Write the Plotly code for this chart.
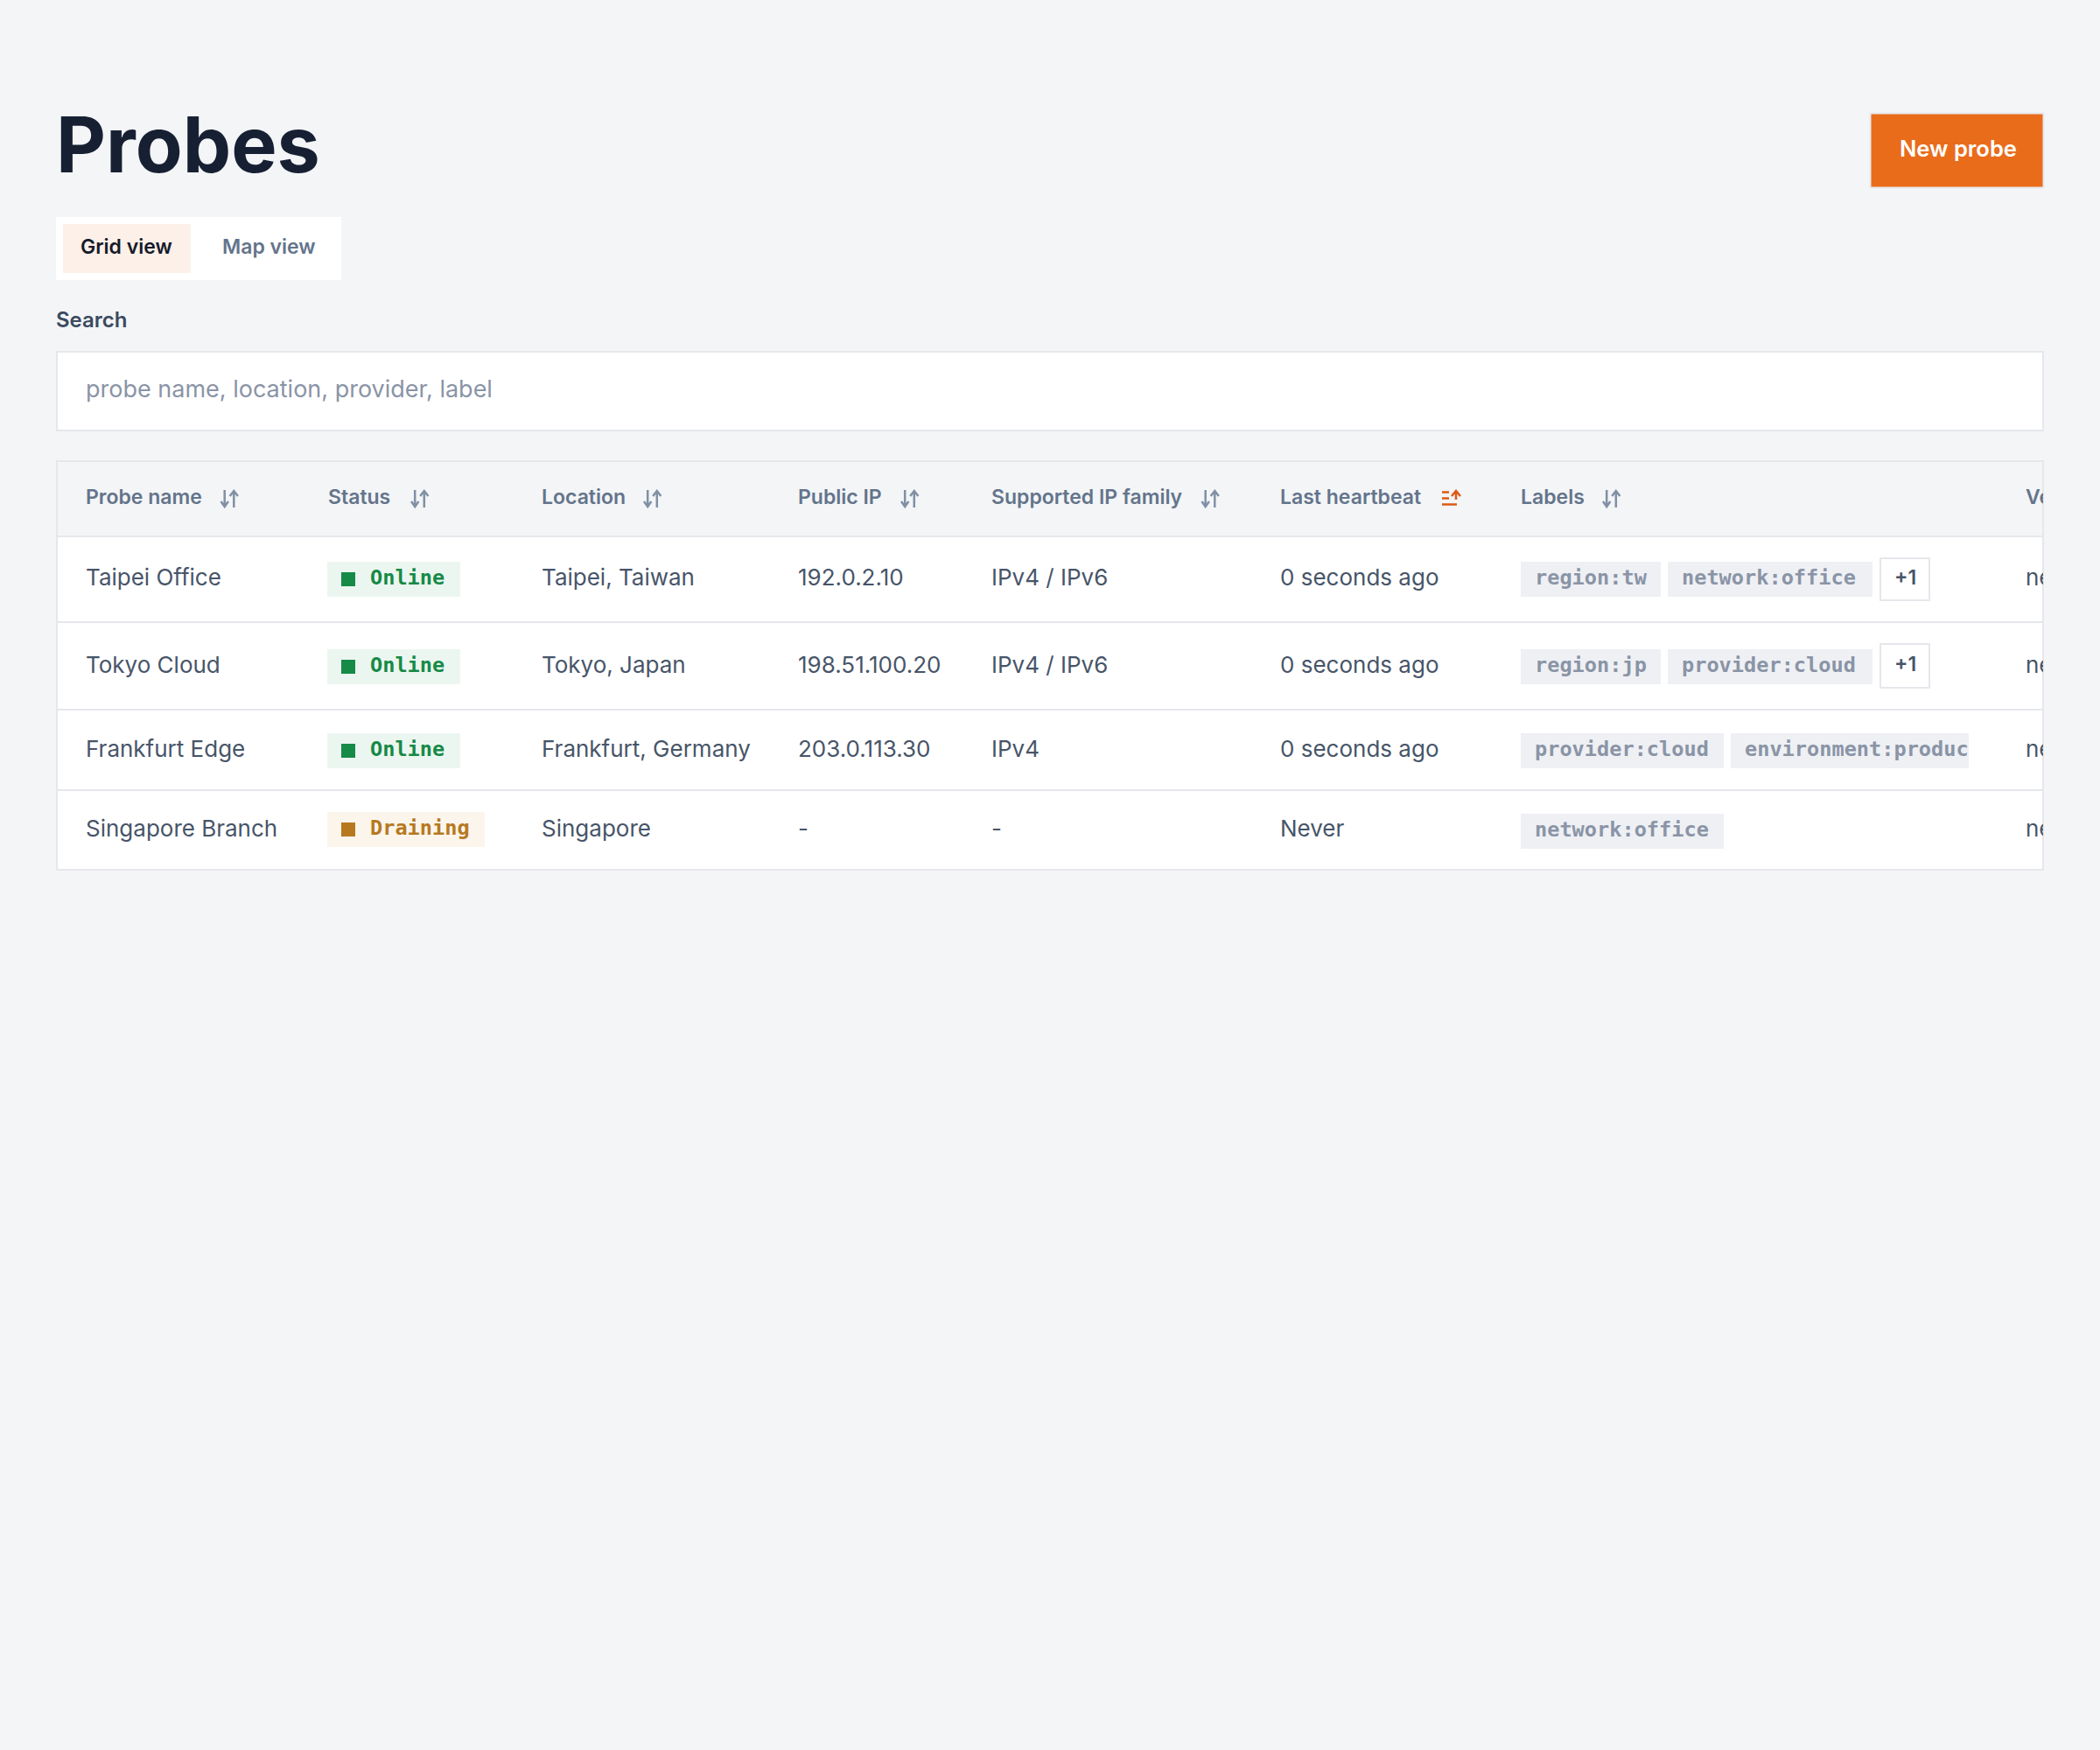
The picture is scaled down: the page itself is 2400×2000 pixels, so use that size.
import plotly.graph_objects as go

# table content
columns = ["Probe name", "Status", "Location", "Public IP", "Supported IP family",
           "Last heartbeat", "Labels"]
last_column = "Version"
names = ["Taipei Office", "Tokyo Cloud", "Frankfurt Edge", "Singapore Branch"]
statuses = ["Online", "Online", "Online", "Draining"]
locations = ["Taipei, Taiwan", "Tokyo, Japan", "Frankfurt, Germany", "Singapore"]
public_ips = ["192.0.2.10", "198.51.100.20", "203.0.113.30", "-"]
families = ["IPv4 / IPv6", "IPv4 / IPv6", "IPv4", "-"]
heartbeats = ["0 seconds ago", "0 seconds ago", "0 seconds ago", "Never"]
versions = ["never", "never", "never", "never"]
labels = [["region:tw", "network:office"],
          ["region:jp", "provider:cloud"],
          ["provider:cloud", "environment:production"],
          ["network:office"]]
extras = ["+1", "+1", "", ""]

W, H = 2400, 2000
BG = "#f3f5f7"
LINE = "#e5e7eb"
SANS = "Inter"
MONO = "DejaVu Sans Mono"

# layout of the page
col_x = [98, 375, 619, 912, 1133, 1463, 1738]
icon_x = [252.5, 470, 736, 1030, 1373.5, 1648, 1832]
row_y = [662, 762, 858, 949]
row_lines = [613, 711, 811, 903]
status_chip_y = [(642, 682), (742, 782), (838, 878), (928, 968)]
label_chip_y = [(642, 682), (742, 782), (838, 878), (930, 970)]
extra_y = [(638, 686), (736, 786)]
label_chip_x = [[(1738, 1898), (1906, 2140)],
                [(1738, 1898), (1906, 2140)],
                [(1738, 1970), (1978, 2250)],
                [(1738, 1970)]]
status_w = {"Online": 152, "Draining": 180}
status_col = {"Online": ("#168a47", "#ecf6f0"), "Draining": ("#b7791f", "#fbf5ec")}

shapes = []


def rect(x0, y0, x1, y1, fill, line=None, lw=2):
    shapes.append(dict(type="rect", xref="x", yref="y", x0=x0, y0=y0, x1=x1, y1=y1,
                       fillcolor=fill, layer="below",
                       line=dict(color=line, width=lw) if line else dict(width=0)))


def seg(x0, y0, x1, y1, color, lw=2):
    shapes.append(dict(type="line", xref="x", yref="y", x0=x0, y0=y0, x1=x1, y1=y1,
                       layer="below", line=dict(color=color, width=lw)))


def path(d, color, lw=2.5):
    shapes.append(dict(type="path", xref="x", yref="y", path=d, layer="below",
                       line=dict(color=color, width=lw)))


def sort_icon(x, color="#8190a5"):
    path(f"M {x+4.2} 560 L {x+4.2} 579 M {x} 573 L {x+4.2} 579 L {x+8.4} 573", color)
    path(f"M {x+14.8} 580 L {x+14.8} 561 M {x+10.2} 567 L {x+14.8} 561 L {x+19.4} 567", color)


def active_icon(x, color="#dd5a14"):
    seg(x, 562.5, x + 8, 562.5, color, 2.5)
    seg(x, 569.5, x + 8, 569.5, color, 2.5)
    seg(x, 576.5, x + 17, 576.5, color, 2.5)
    path(f"M {x+16} 571 L {x+16} 561 M {x+11} 567 L {x+16} 561 L {x+21} 567", color)


traces = []


def add_text(xs, ys, texts, size, color, family=SANS, weight=400, xaxis="x"):
    traces.append(go.Scatter(x=xs, y=ys, text=texts, mode="text", xaxis=xaxis, yaxis="y",
                             textposition="middle right", hoverinfo="skip", showlegend=False,
                             cliponaxis=True,
                             textfont=dict(family=family, size=size, color=color, weight=weight)))


# page head
rect(2137.5, 129.5, 2335.5, 214.5, "#e96c1b", "#e8eaee")
rect(64, 248, 390, 320, "#ffffff")
rect(72, 256, 218, 312, "#fdf0e8")
rect(65, 402, 2335, 492, "#ffffff", LINE)

add_text([64], [175], ["Probes"], 88, "#172033", weight=700)
add_text([2171], [173], ["New probe"], 25.5, "#ffffff", weight=600)
add_text([92], [284], ["Grid view"], 23, "#151b2b", weight=600)
add_text([254], [284], ["Map view"], 23, "#64748b", weight=600)
add_text([64], [368], ["Search"], 24, "#3b4a5f", weight=600)
add_text([98], [447], ["probe name, location, provider, label"], 27, "#8a94a6")

# table frame
rect(65, 527, 2335, 994, "#ffffff", LINE)
rect(66, 528, 2334, 612, BG)
for y in row_lines:
    seg(65, y, 2335, y, LINE)

add_text(col_x, [570] * len(columns), columns, 23, "#64748b", weight=600)
add_text([2315], [570], [last_column], 23, "#64748b", weight=600, xaxis="x2")
for i, x in enumerate(icon_x):
    if columns[i] == "Last heartbeat":
        active_icon(x)
    else:
        sort_icon(x)

# body rows
for col, values in zip([0, 2, 3, 4, 5], [names, locations, public_ips, families, heartbeats]):
    add_text([col_x[col]] * len(row_y), row_y, values, 26, "#475569")
add_text([2315] * len(row_y), row_y, versions, 26, "#475569", xaxis="x2")

for i, s in enumerate(statuses):
    y0, y1 = status_chip_y[i]
    fg, bg = status_col[s]
    rect(374, y0, 374 + status_w[s], y1, bg)
    rect(390, (y0 + y1) / 2 - 8, 406, (y0 + y1) / 2 + 8, fg)
    add_text([423], [(y0 + y1) / 2], [s], 23.6, fg, family=MONO, weight=700)

for i, row in enumerate(labels):
    y0, y1 = label_chip_y[i]
    for (x0, x1), lab in zip(label_chip_x[i], row):
        rect(x0, y0, x1, y1, "#eef0f4")
        # the long chip is cut by its cell, so it sits on a shorter axis
        add_text([x0 + 16], [(y0 + y1) / 2], [lab], 23.6, "#8a94a6", family=MONO, weight=700,
                 xaxis="x3" if x1 == 2250 else "x")
    if extras[i]:
        rect(2149, extra_y[i][0], 2205, extra_y[i][1], "#ffffff", LINE)
        add_text([2165], [sum(extra_y[i]) / 2], [extras[i]], 23, "#475569", weight=600)

fig = go.Figure(traces)
axis = dict(visible=False, fixedrange=True)
fig.update_layout(
    width=W, height=H,
    margin=dict(l=0, r=0, t=0, b=0),
    paper_bgcolor=BG, plot_bgcolor="rgba(0,0,0,0)",
    showlegend=False, shapes=shapes,
    xaxis=dict(axis, range=[0, W], domain=[0, 1]),
    xaxis2=dict(axis, range=[0, 2335], domain=[0, 2335 / W], anchor="y"),
    xaxis3=dict(axis, range=[0, 2250], domain=[0, 2250 / W], anchor="y"),
    yaxis=dict(axis, range=[H, 0], domain=[0, 1]),
)
fig.write_html("out.html", config=dict(displayModeBar=False),
               post_script=f"document.body.style.margin='0';document.body.style.background='{BG}';")
